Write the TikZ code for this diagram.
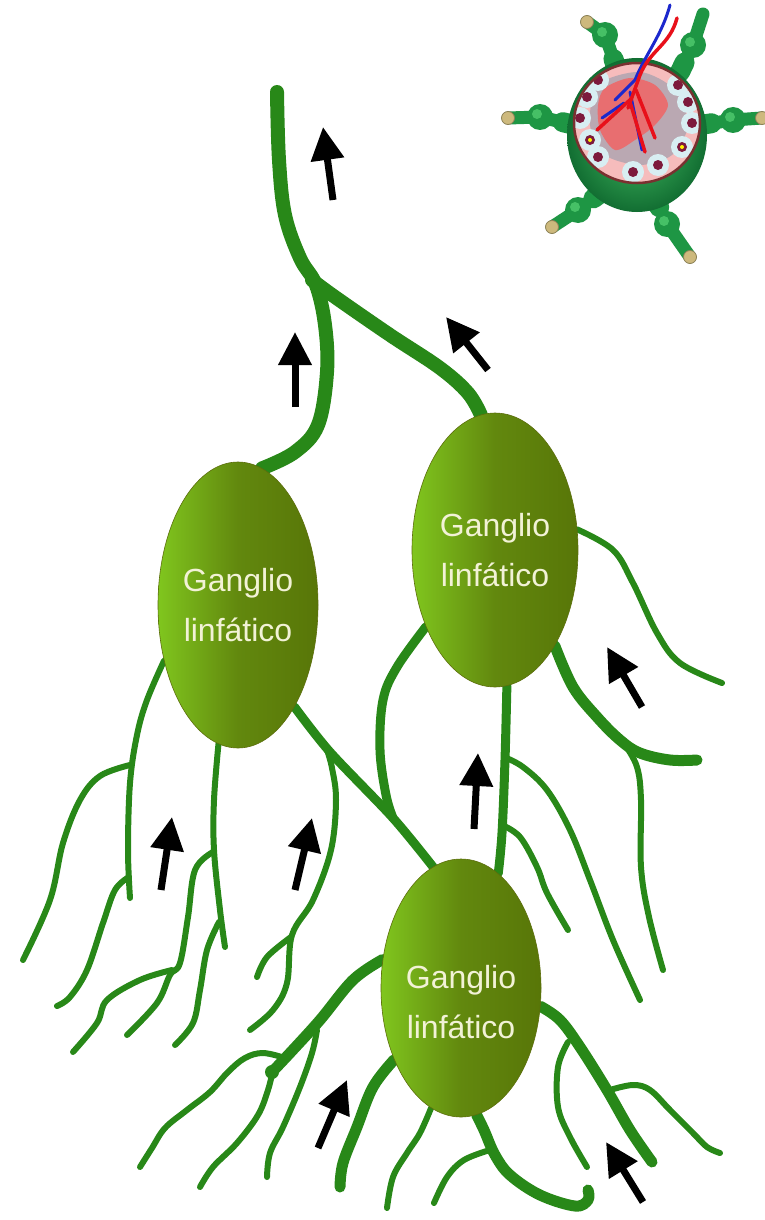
\documentclass[tikz,border=0pt]{standalone}
\usepackage{fontspec}
\setmainfont{Liberation Sans}
\usetikzlibrary{arrows.meta,shapes.geometric,backgrounds,calc}

\definecolor{lymph}{RGB}{40,136,24}
\definecolor{gangLight}{RGB}{128,198,30}
\definecolor{gangMid}{RGB}{98,136,14}
\definecolor{gangDark}{RGB}{88,118,8}
\definecolor{gangEdge}{RGB}{92,110,12}
\definecolor{labelcream}{RGB}{242,242,214}
\definecolor{insetgreen}{RGB}{30,150,68}
\definecolor{insetlight}{RGB}{70,192,102}
\definecolor{insetdark}{RGB}{18,110,50}
\definecolor{tancap}{RGB}{205,185,125}
\definecolor{rim}{RGB}{122,48,48}
\definecolor{cutpink}{RGB}{246,188,188}
\definecolor{salmon}{RGB}{232,110,112}
\definecolor{greyish}{RGB}{186,168,178}
\definecolor{cellblue}{RGB}{216,238,242}
\definecolor{nucleus}{RGB}{125,26,60}
\definecolor{artery}{RGB}{232,16,26}
\definecolor{vein}{RGB}{28,40,205}

\begin{document}
\begin{tikzpicture}[x=1pt,y=-1pt,
  vessel/.style={draw=lymph,line width=6pt,line cap=round,line join=round},
  midvessel/.style={vessel,line width=9pt},
  thickvessel/.style={vessel,line width=11pt},
  trunk/.style={vessel,line width=14pt},
  ganglio/.style={ellipse,inner sep=0pt,draw=gangEdge,line width=0.6pt,
    left color=gangLight,right color=gangDark,middle color=gangMid},
  rotulo/.style={text=labelcream,align=center,font=\fontsize{32}{50}\selectfont},
  flow/.style={line width=7pt,-{Triangle[width=32pt,length=33pt]}}]

  \useasboundingbox (0,0) rectangle (764,1220);

  % the three lymph nodes
  \node[ganglio,minimum width=160pt,minimum height=286pt] (gl) at (238,605) {};
  \node[ganglio,minimum width=166pt,minimum height=274pt] (gr) at (495,550) {};
  \node[ganglio,minimum width=160pt,minimum height=258pt] (gb) at (461,988) {};
  \node[rotulo] (gltext) at (gl) {Ganglio\\linfático};
  \node[rotulo] (grtext) at (gr) {Ganglio\\linfático};
  \node[rotulo] (gbtext) at (461,1002) {Ganglio\\linfático};

  \begin{scope}[on background layer]
    \fill[white] (0,0) rectangle (764,1220);

    % efferent trunk and its branch
    \draw[trunk] plot[smooth,tension=.6] coordinates {(277,92) (279,160) (285,215) (300,258) (316,285) (325,325) (327,372) (318,425) (295,452) (gl.80)};
    \draw[trunk] plot[smooth,tension=.6] coordinates {(312,280) (335,297) (390,335) (440,368) (468,393) (gr.96)};

    % vessels between the nodes
    \draw[midvessel] plot[smooth,tension=.5] coordinates {(gl.-61) (330,752) (393,818) (gb.103)};
    \draw[midvessel] plot[smooth,tension=.6] coordinates {(gr.-132) (397,667) (383,700) (380,750) (386,795) (393,818)};
    \draw[midvessel] plot[smooth,tension=.6] coordinates {(gr.-85) (505,760) (502,833) (gb.72)};

    % afferent vessels, left node
    \draw[vessel] plot[smooth,tension=.6] coordinates {(gl.-143) (147,700) (137,735) (130,783) (128,850) (130,898)};
    \draw[vessel] plot[smooth,tension=.6] coordinates {(130,765) (100,776) (80,800) (63,843) (50,900) (23,960)};
    \draw[vessel] plot[smooth,tension=.6] coordinates {(129,877) (115,890) (103,923) (87,970) (70,997) (57,1006)};
    \draw[vessel] plot[smooth,tension=.6] coordinates {(gl.-98) (214,800) (214,850) (220,910) (225,947)};
    \draw[vessel] plot[smooth,tension=.6] coordinates {(213,852) (195,870) (188,917) (180,963) (170,975) (157,1003) (127,1035)};
    \draw[vessel] plot[smooth,tension=.6] coordinates {(172,970) (140,980) (107,1000) (97,1023) (73,1052)};
    \draw[vessel] plot[smooth,tension=.6] coordinates {(219,922) (207,950) (200,990) (193,1023) (175,1045)};
    \draw[vessel] plot[smooth,tension=.6] coordinates {(327,750) (332,768) (336,800) (331,850) (313,900) (292,935) (287,983) (273,1010) (250,1030)};
    \draw[vessel] plot[smooth,tension=.6] coordinates {(291,937) (267,957) (257,977)};

    % afferent vessels, right node
    \draw[vessel] plot[smooth,tension=.6] coordinates {(504,757) (523,767) (547,790) (570,830) (590,880) (613,940) (640,1000)};
    \draw[vessel] plot[smooth,tension=.6] coordinates {(502,825) (520,837) (537,867) (547,893) (568,930)};
    \draw[vessel] plot[smooth,tension=.6] coordinates {(gr.14) (613,550) (633,583) (657,633) (680,663) (722,683)};
    \draw[thickvessel] plot[smooth,tension=.6] coordinates {(gr.-58) (573,687) (597,717) (620,740) (640,753) (670,760) (697,760)};
    \draw[vessel] plot[smooth,tension=.6] coordinates {(625,745) (637,767) (641,800) (641,867) (649,917) (663,970)};

    % afferent vessels, bottom node
    \draw[thickvessel] plot[smooth,tension=.6] coordinates {(gb.160) (353,980) (320,1020) (290,1053) (272,1072)};
    \draw[vessel] plot[smooth,tension=.6] coordinates {(285,1058) (263,1053) (245,1058) (228,1072) (210,1092) (187,1110) (165,1128) (152,1148) (140,1167)};
    \draw[vessel] plot[smooth,tension=.6] coordinates {(273,1070) (268,1090) (258,1115) (237,1143) (213,1167) (200,1187)};
    \draw[vessel] plot[smooth,tension=.6] coordinates {(317,1030) (312,1053) (300,1087) (283,1127) (270,1153) (267,1177)};
    \fill[lymph] (272,1072) circle (7);
    \draw[thickvessel] plot[smooth,tension=.6] coordinates {(gb.-133) (373,1087) (357,1127) (343,1163) (340,1187)};
    \draw[vessel] plot[smooth,tension=.6] coordinates {(gb.-104) (420,1133) (407,1153) (393,1177) (387,1208)};
    \draw[thickvessel] plot[smooth,tension=.6] coordinates {(gb.-83) (484,1130) (495,1155) (510,1175) (540,1195) (575,1206) (588,1200) (588,1190)};
    \draw[vessel] plot[smooth,tension=.6] coordinates {(490,1150) (464,1160) (447,1177) (434,1203)};
    \draw[thickvessel] plot[smooth,tension=.6] coordinates {(gb.-13) (560,1020) (580,1047) (607,1090) (630,1130) (652,1162)};
    \draw[vessel] plot[smooth,tension=.6] coordinates {(568,1042) (558,1067) (558,1107) (570,1137) (587,1167)};
    \draw[vessel] plot[smooth,tension=.6] coordinates {(610,1090) (633,1085) (650,1090) (670,1110) (693,1133) (707,1147) (720,1153)};
  \end{scope}

  % direction of lymph flow
  \foreach \tx/\ty/\hx/\hy in {333/200/323/127, 295/407/295/332, 488/370/446/317,
      642/707/607/647, 474/829/478/753, 161/890/172/817, 295/890/312/818,
      318/1148/347/1080, 643/1202/606/1142}
    \draw[flow] (\tx,\ty) -- (\hx,\hy);

  % small cut-away node, top right
  \foreach \sx/\sy/\bx/\by/\ex/\ey in {618/72/605/35/587/22, 680/72/693/45/703/14,
      575/125/540/117/508/118, 700/125/733/120/762/118,
      602/192/578/210/552/227, 655/198/667/224/690/257} {
    \draw[insetgreen,line width=20pt,line cap=round] (\sx,\sy) -- ($(\sx,\sy)!0.35!(\bx,\by)$);
    \draw[insetgreen,line width=13pt,line cap=round,line join=round] (\sx,\sy) -- (\bx,\by) -- (\ex,\ey);
    \fill[insetgreen] (\bx,\by) circle (13);
    \fill[insetlight] ($(\bx,\by)+(-3,-3)$) circle (5);
  }
  \foreach \ex/\ey in {587/22, 508/118, 762/118, 552/227, 690/257}
    \filldraw[fill=tancap,draw=tancap!70!black,line width=0.8pt] (\ex,\ey) circle (6.5);

  \shade[inner color=insetlight,outer color=insetdark] (637,135) ellipse [x radius=70,y radius=77];
  \fill[cutpink] (637,123) ellipse [x radius=63,y radius=60];
  \begin{scope}
    \clip (637,123) ellipse [x radius=63,y radius=60];
    \fill[greyish] plot[smooth cycle] coordinates {(598,85) (640,72) (675,90) (688,125) (672,155) (640,165) (605,155) (590,125)};
    \fill[salmon] plot[smooth cycle] coordinates {(605,88) (630,78) (655,85) (668,105) (655,125) (635,140) (615,150) (600,130) (598,105)};
    \foreach \cx/\cy in {598/80, 587/97, 580/118, 590/140, 598/157, 633/172,
        658/165, 682/147, 692/123, 688/102, 678/85} {
      \fill[cellblue] (\cx,\cy) circle (11);
      \fill[nucleus] (\cx,\cy) circle (5);
    }
    \fill[yellow] (590,140) circle (2);
    \fill[yellow] (682,147) circle (2);
  \end{scope}
  \draw[rim,line width=2.5pt] (637,123) ellipse [x radius=63,y radius=60];

  % blood supply
  \draw[vein,line width=3pt,line cap=round] (670,5) .. controls (662,35) and (645,55) .. (635,80) -- (615,100);
  \draw[vein,line width=3pt,line cap=round] (630,92) -- (642,150);
  \draw[vein,line width=3pt,line cap=round] (624,103) -- (602,118);
  \draw[artery,line width=3.5pt,line cap=round] (677,18) .. controls (670,45) and (650,50) .. (640,75) -- (628,108);
  \draw[artery,line width=3.5pt,line cap=round] (632,98) -- (597,130);
  \draw[artery,line width=3.5pt,line cap=round] (630,102) -- (645,152);
  \draw[artery,line width=3.5pt,line cap=round] (636,90) -- (655,138);
\end{tikzpicture}
\end{document}
